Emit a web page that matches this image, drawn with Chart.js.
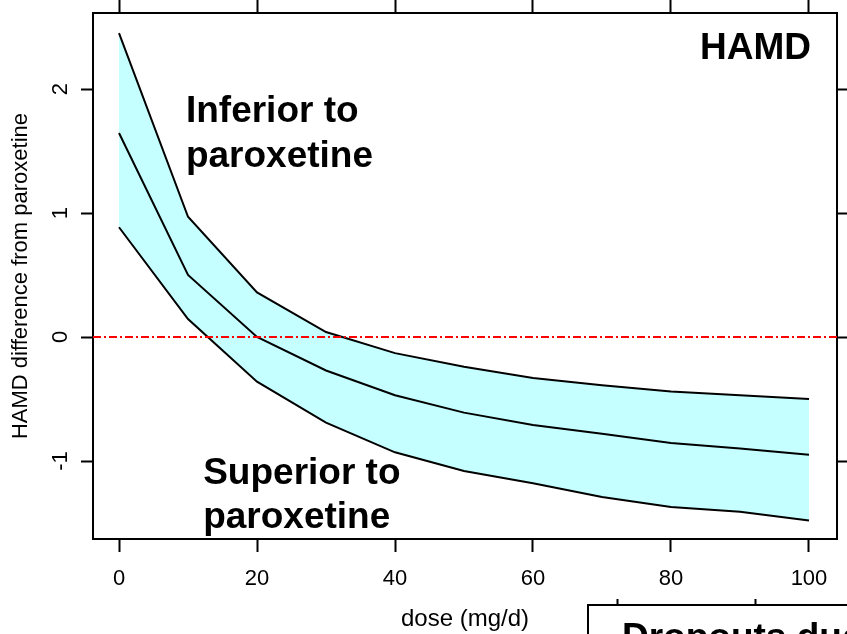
<!DOCTYPE html>
<html>
<head>
<meta charset="utf-8">
<title>HAMD difference from paroxetine</title>
<script src="https://cdn.jsdelivr.net/npm/chart.js@4.4.1/dist/chart.umd.min.js"></script>
<style>
  html, body { margin: 0; padding: 0; background: #fff; overflow: hidden; }
  #wrap { position: relative; width: 847px; height: 634px; }
  #hamd { position: absolute; left: 0; top: 0; }
  #dropouts { position: absolute; left: 586px; top: 599px; }
</style>
</head>
<body>
<div id="wrap">
  <canvas id="hamd" width="847" height="634"></canvas>
  <canvas id="dropouts" width="261" height="60"></canvas>
</div>
<script>
// ======== DADOS ========
const dose = [0, 10, 20, 30, 40, 50, 60, 70, 80, 90, 100];
const upperCI = [2.45, 0.97, 0.36, 0.04, -0.13, -0.24, -0.33, -0.39, -0.44, -0.47, -0.50];
const estimate = [1.645, 0.50, 0.00, -0.27, -0.47, -0.61, -0.71, -0.78, -0.855, -0.90, -0.95];
const lowerCI = [0.885, 0.145, -0.36, -0.69, -0.93, -1.08, -1.18, -1.29, -1.37, -1.41, -1.48];

const doseTicks = [0, 20, 40, 60, 80, 100];
const hamdTicks = [-1, 0, 1, 2];
const xRange = [-3.77, 104.06];
const yRange = [-1.629, 2.613];
const noEffect = 0;

const panelTicks = [0, 20];
const panelRange = [-4.2, 33.3];

const FONT = '"Liberation Sans", Arial, sans-serif';
Chart.defaults.font.family = FONT;
Chart.defaults.color = '#000';

const pts = arr => dose.map((d, i) => ({ x: d, y: arr[i] }));
const fixTicks = list => s => { s.ticks = list.map(v => ({ value: v })); };

// tamanho fixo das margens, sem o padding extra dos rótulos
const fixSize = (w, h) => s => {
  if (w !== null) s.width = w;
  if (h !== null) s.height = h;
  s.paddingTop = 0; s.paddingBottom = 0;
  s.paddingLeft = 0; s.paddingRight = 0;
};

const tickGrid = len => ({
  drawOnChartArea: false,
  drawTicks: true,
  tickLength: len,
  tickWidth: 2,
  tickColor: '#000'
});
const frame = { display: true, color: '#000', width: 2 };

// ======== TEXTOS DENTRO DO GRÁFICO ========
const textLabels = {
  id: 'textLabels',
  afterDraw(chart) {
    const { ctx, scales: { x, y } } = chart;
    ctx.save();
    ctx.fillStyle = '#000';
    ctx.font = 'bold 37px ' + FONT;
    ctx.textBaseline = 'alphabetic';
    ctx.textAlign = 'left';
    ctx.fillText('Inferior to', x.getPixelForValue(9.7), y.getPixelForValue(1.734));
    ctx.fillText('paroxetine', x.getPixelForValue(9.7), y.getPixelForValue(1.371));
    ctx.fillText('Superior to', x.getPixelForValue(12.2), y.getPixelForValue(-1.185));
    ctx.fillText('paroxetine', x.getPixelForValue(12.2), y.getPixelForValue(-1.54));
    ctx.textAlign = 'right';
    ctx.fillText('HAMD', x.getPixelForValue(100.3), y.getPixelForValue(2.242));
    ctx.restore();
  }
};

new Chart(document.getElementById('hamd'), {
  type: 'line',
  data: {
    datasets: [
      {
        label: 'zero',
        data: [{ x: xRange[0], y: noEffect }, { x: xRange[1], y: noEffect }],
        borderColor: '#ff0000',
        borderWidth: 2,
        borderDash: [8, 3, 2, 3],
        pointRadius: 0,
        fill: false,
        order: 0
      },
      {
        label: 'lower',
        data: pts(lowerCI),
        borderColor: '#000',
        borderWidth: 2,
        pointRadius: 0,
        fill: false,
        order: 3
      },
      {
        label: 'upper',
        data: pts(upperCI),
        borderColor: '#000',
        borderWidth: 2,
        pointRadius: 0,
        backgroundColor: '#c6ffff',
        fill: '-1',
        order: 2
      },
      {
        label: 'estimate',
        data: pts(estimate),
        borderColor: '#000',
        borderWidth: 2,
        pointRadius: 0,
        fill: false,
        order: 1
      }
    ]
  },
  options: {
    responsive: false,
    animation: false,
    devicePixelRatio: 1,
    layout: { padding: 0 },
    plugins: {
      legend: { display: false },
      tooltip: { enabled: false },
      filler: { drawTime: 'beforeDatasetsDraw' }
    },
    elements: { line: { tension: 0 } },
    scales: {
      x: {
        type: 'linear', position: 'bottom',
        min: xRange[0], max: xRange[1],
        afterBuildTicks: fixTicks(doseTicks),
        afterFit: fixSize(null, 95),
        grid: tickGrid(13),
        border: frame,
        ticks: { font: { size: 22 }, padding: 14, maxRotation: 0, autoSkip: false },
        title: { display: true, text: 'dose (mg/d)', font: { size: 24 }, padding: { top: 0, bottom: 0 } }
      },
      xTop: {
        type: 'linear', position: 'top',
        min: xRange[0], max: xRange[1],
        afterBuildTicks: fixTicks(doseTicks),
        afterFit: fixSize(null, 13),
        grid: tickGrid(13),
        border: frame,
        ticks: { display: false }
      },
      y: {
        type: 'linear', position: 'left',
        min: yRange[0], max: yRange[1],
        afterBuildTicks: fixTicks(hamdTicks),
        afterFit: fixSize(93, null),
        grid: tickGrid(12),
        border: frame,
        ticks: { font: { size: 22 }, minRotation: 90, maxRotation: 90, crossAlign: 'center', padding: 10, autoSkip: false },
        title: { display: true, text: 'HAMD difference from paroxetine', font: { size: 22 }, padding: { top: 8, bottom: 0 } }
      },
      yRight: {
        type: 'linear', position: 'right',
        min: yRange[0], max: yRange[1],
        afterBuildTicks: fixTicks(hamdTicks),
        afterFit: fixSize(10, null),
        grid: tickGrid(10),
        border: frame,
        ticks: { display: false }
      }
    }
  },
  plugins: [textLabels]
});

// ======== PAINEL SEGUINTE (DESISTÊNCIAS) ========
const panelTitle = {
  id: 'panelTitle',
  afterDraw(chart) {
    const { ctx, chartArea } = chart;
    ctx.save();
    ctx.fillStyle = '#000';
    ctx.font = 'bold 37px ' + FONT;
    ctx.textAlign = 'left';
    ctx.textBaseline = 'alphabetic';
    ctx.fillText('Dropouts due', chartArea.left + 34, chartArea.top + 44);
    ctx.restore();
  }
};

new Chart(document.getElementById('dropouts'), {
  type: 'line',
  data: { datasets: [] },
  options: {
    responsive: false,
    animation: false,
    devicePixelRatio: 1,
    layout: { padding: 0 },
    plugins: { legend: { display: false }, tooltip: { enabled: false } },
    scales: {
      x: {
        type: 'linear', position: 'top',
        min: panelRange[0], max: panelRange[1],
        afterBuildTicks: fixTicks(panelTicks),
        afterFit: fixSize(null, 6),
        grid: tickGrid(6),
        border: frame,
        ticks: { display: false }
      },
      y: {
        type: 'linear', position: 'left',
        min: 0, max: 1,
        afterFit: fixSize(2, null),
        grid: { display: false },
        border: frame,
        ticks: { display: false }
      }
    }
  },
  plugins: [panelTitle]
});
</script>
</body>
</html>
